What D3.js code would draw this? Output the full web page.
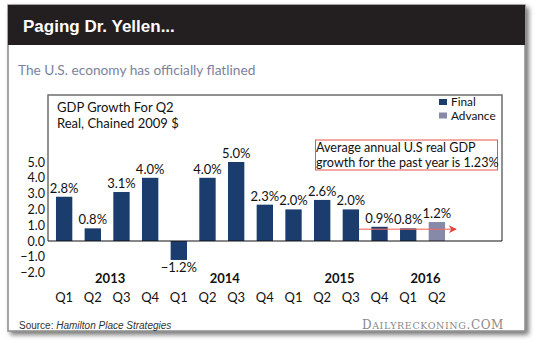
<!DOCTYPE html>
<html>
<head>
<meta charset="utf-8">
<script src="https://cdn.jsdelivr.net/npm/d3@7"></script>
<style>
  html, body { margin: 0; padding: 0; background: #fff; }
  svg { display: block; }
  .sans { font-family: Lato, "Noto Sans", sans-serif; }
</style>
</head>
<body>
<div id="chart"></div>
<script>
// quarterly real GDP growth, annualised
var quarters = ['Q1', 'Q2', 'Q3', 'Q4', 'Q1', 'Q2', 'Q3', 'Q4', 'Q1', 'Q2', 'Q3', 'Q4', 'Q1', 'Q2'];
var years = [2013, 2013, 2013, 2013, 2014, 2014, 2014, 2014, 2015, 2015, 2015, 2015, 2016, 2016];
var growth = [2.8, 0.8, 3.1, 4.0, -1.2, 4.0, 5.0, 2.3, 2.0, 2.6, 2.0, 0.9, 0.8, 1.2];
var estimate = ['Final', 'Final', 'Final', 'Final', 'Final', 'Final', 'Final', 'Final',
  'Final', 'Final', 'Final', 'Final', 'Final', 'Advance'];
var yTicks = [-2, -1, 0, 1, 2, 3, 4, 5];
var yearLabels = [2013, 2014, 2015, 2016];
var trendLevel = 0.75;

var W = 540, H = 343;
var colors = { Final: '#1b3d6d', Advance: '#8789a9' };

var svg = d3.select('#chart').append('svg')
  .attr('width', W)
  .attr('height', H);

var defs = svg.append('defs');
var shadow = defs.append('filter').attr('id', 'shadow')
  .attr('x', '-5%').attr('y', '-5%').attr('width', '115%').attr('height', '115%');
shadow.append('feGaussianBlur').attr('in', 'SourceAlpha').attr('stdDeviation', 2.5);
shadow.append('feOffset').attr('dx', 3).attr('dy', 3).attr('result', 'blur');
shadow.append('feComponentTransfer').append('feFuncA').attr('type', 'linear').attr('slope', 0.55);
var merge = shadow.append('feMerge');
merge.append('feMergeNode');
merge.append('feMergeNode').attr('in', 'SourceGraphic');

defs.append('marker')
  .attr('id', 'arrowhead')
  .attr('viewBox', '0 0 10 10')
  .attr('refX', 9).attr('refY', 5)
  .attr('markerWidth', 10).attr('markerHeight', 8)
  .attr('markerUnits', 'userSpaceOnUse')
  .attr('orient', 'auto')
  .append('path')
  .attr('d', 'M0,0 L10,5 L0,10 L3,5 Z')
  .attr('fill', '#e8423a');

// card
svg.append('rect')
  .attr('x', 8).attr('y', 5).attr('width', 517).attr('height', 326)
  .attr('fill', '#fff')
  .attr('stroke', '#8a8a8a').attr('stroke-width', 1.5)
  .attr('filter', 'url(#shadow)');

svg.append('rect')
  .attr('x', 8).attr('y', 5).attr('width', 517).attr('height', 40)
  .attr('fill', '#231f20');

svg.append('text')
  .attr('x', 23).attr('y', 32)
  .attr('fill', '#fff')
  .style('font-family', '"Liberation Sans", Arial, sans-serif')
  .style('font-weight', 'bold')
  .style('font-size', '17px')
  .text('Paging Dr. Yellen...');

svg.append('text')
  .attr('class', 'sans')
  .attr('x', 18).attr('y', 75)
  .attr('fill', '#7a82a0')
  .style('font-size', '13.7px')
  .text('The U.S. economy has officially flatlined');

// scales
var x = d3.scaleBand()
  .domain(d3.range(growth.length))
  .range([49.8, 451.2])
  .paddingInner(0.43)
  .paddingOuter(0.215);

var y = d3.scaleLinear()
  .domain([-2, 5])
  .range([272.6, 162]);

var boxLeft = 48, boxRight = 502, boxTop = 95;

// chart frame (top, left, right); the zero line closes it
svg.append('path')
  .attr('d', 'M' + boxLeft + ',' + y(0) + 'V' + boxTop + 'H' + boxRight + 'V' + y(0))
  .attr('fill', 'none')
  .attr('stroke', '#6d6d6d')
  .attr('stroke-width', 1.5);

var g = svg.append('g').attr('class', 'sans');

g.append('text').attr('x', 57).attr('y', 112)
  .attr('fill', '#111').style('font-size', '13px')
  .text('GDP Growth For Q2');
g.append('text').attr('x', 57).attr('y', 128)
  .attr('fill', '#111').style('font-size', '13px')
  .text('Real, Chained 2009 $');

// y axis
var yAxis = d3.axisLeft(y)
  .tickValues(yTicks)
  .tickSize(0)
  .tickPadding(0)
  .tickFormat(d3.format('.1f'));

g.append('g')
  .attr('transform', 'translate(45,0)')
  .call(yAxis)
  .call(function (sel) {
    sel.select('.domain').remove();
    sel.selectAll('text')
      .attr('fill', '#111')
      .style('font-family', 'Lato, "Noto Sans", sans-serif')
      .style('font-size', '12.5px');
  });

// bars
g.selectAll('rect.bar')
  .data(growth)
  .enter()
  .append('rect')
  .attr('class', 'bar')
  .attr('x', function (d, i) { return x(i); })
  .attr('width', x.bandwidth())
  .attr('y', function (d) { return y(Math.max(0, d)); })
  .attr('height', function (d) { return Math.abs(y(d) - y(0)); })
  .attr('fill', function (d, i) { return colors[estimate[i]]; });

g.append('line')
  .attr('x1', boxLeft).attr('x2', boxRight)
  .attr('y1', y(0)).attr('y2', y(0))
  .attr('stroke', '#111').attr('stroke-width', 1.2);

// value labels
g.selectAll('text.val')
  .data(growth)
  .enter()
  .append('text')
  .attr('class', 'val')
  .attr('x', function (d, i) { return x(i) + x.bandwidth() / 2; })
  .attr('y', function (d) { return d < 0 ? y(d) + 12 : y(d) - 4; })
  .attr('text-anchor', 'middle')
  .attr('fill', '#111')
  .style('font-size', '13px')
  .text(function (d) { return d3.format('.1f')(d) + '%'; });

// quarter and year labels
g.selectAll('text.q')
  .data(quarters)
  .enter()
  .append('text')
  .attr('class', 'q')
  .attr('x', function (d, i) { return x(i) + x.bandwidth() / 2; })
  .attr('y', 302)
  .attr('text-anchor', 'middle')
  .attr('fill', '#111')
  .style('font-size', '13px')
  .text(function (d) { return d; });

g.selectAll('text.year')
  .data(yearLabels)
  .enter()
  .append('text')
  .attr('class', 'year')
  .attr('x', function (yr) {
    var centers = [];
    years.forEach(function (v, i) { if (v === yr) centers.push(x(i) + x.bandwidth() / 2); });
    return d3.mean(centers) + 3;
  })
  .attr('y', 283)
  .attr('text-anchor', 'middle')
  .attr('fill', '#111')
  .style('font-size', '13px')
  .style('font-weight', 'bold')
  .text(function (d) { return d; });

// legend
var legend = g.selectAll('g.legend')
  .data(['Final', 'Advance'])
  .enter()
  .append('g')
  .attr('class', 'legend')
  .attr('transform', function (d, i) { return 'translate(439,' + (99 + i * 13.5) + ')'; });
legend.append('rect')
  .attr('width', 8).attr('height', 6)
  .attr('fill', function (d) { return colors[d]; });
legend.append('text')
  .attr('x', 12).attr('y', 7.3)
  .attr('fill', '#111')
  .style('font-size', '11.8px')
  .text(function (d) { return d; });

// annotation
g.append('rect')
  .attr('x', 315.5).attr('y', 140)
  .attr('width', 182).attr('height', 30)
  .attr('fill', 'none')
  .attr('stroke', '#e8564e').attr('stroke-width', 1);
g.append('text').attr('x', 316).attr('y', 152)
  .attr('fill', '#111').style('font-size', '12.6px')
  .text('Average annual U.S real GDP');
g.append('text').attr('x', 316).attr('y', 167)
  .attr('fill', '#111').style('font-size', '12.6px')
  .text('growth for the past year is 1.23%');

g.append('line')
  .attr('x1', x(10) + x.bandwidth())
  .attr('x2', x(13) + x.bandwidth() + 11)
  .attr('y1', y(trendLevel)).attr('y2', y(trendLevel))
  .attr('stroke', '#ee6b63').attr('stroke-opacity', 0.75)
  .attr('stroke-width', 1.5)
  .attr('marker-end', 'url(#arrowhead)');

// footer
var src = svg.append('text')
  .attr('x', 19).attr('y', 329)
  .attr('fill', '#333')
  .style('font-family', '"Liberation Sans", Arial, sans-serif')
  .style('font-size', '10px');
src.append('tspan').text('Source: ');
src.append('tspan').style('font-style', 'italic').text('Hamilton Place Strategies');

var brand = svg.append('text')
  .attr('x', 504).attr('y', 329)
  .attr('text-anchor', 'end')
  .attr('fill', '#8a8a8a')
  .style('font-family', '"DejaVu Serif", "Liberation Serif", serif')
  .style('letter-spacing', '0.6px');
brand.append('tspan').style('font-size', '12px').text('D');
brand.append('tspan').style('font-size', '9.5px').text('AILYRECKONING');
brand.append('tspan').style('font-size', '12px').text('.COM');
</script>
</body>
</html>
